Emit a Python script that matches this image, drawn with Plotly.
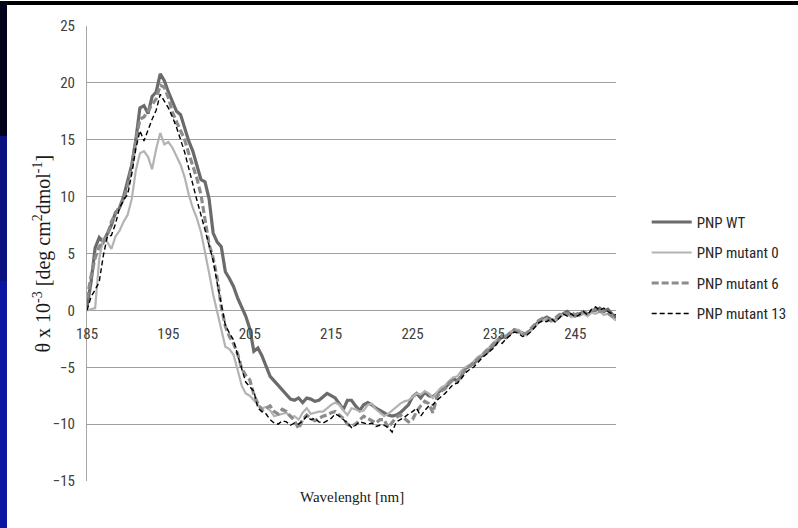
import plotly.graph_objects as go

# Wavelength grid, 185-250 nm in 0.5 nm steps
wavelength = [185 + 0.5 * i for i in range(131)]

# Mean residue ellipticity, theta x 10^-3 [deg cm2 dmol-1]
pnp_wt = [
    0.3, 2.5, 5.5, 6.4, 6.0, 6.7, 7.5, 8.6, 9.0, 10.0,
    11.3, 12.8, 15.0, 17.8, 18.0, 17.3, 18.8, 19.2, 20.8, 20.2,
    19.2, 18.4, 17.5, 17.2, 16.0, 14.9, 14.0, 12.8, 11.5, 11.3,
    9.8, 6.8, 6.0, 5.6, 3.4, 2.8, 2.1, 1.1, 0.3, -0.5,
    -1.6, -3.6, -3.3, -4.0, -4.9, -5.8, -6.2, -6.6, -6.9, -7.4,
    -7.8, -7.9, -7.7, -8.1, -7.7, -7.8, -8.0, -7.9, -7.6, -7.3,
    -7.5, -7.7, -8.2, -8.7, -7.9, -7.9, -8.4, -8.8, -8.3, -8.1,
    -8.3, -8.6, -8.8, -9.0, -9.2, -9.3, -9.2, -9.0, -8.6, -8.3,
    -7.6, -7.3, -7.7, -7.2, -7.5, -7.6, -7.3, -7.0, -6.8, -6.4,
    -6.0, -6.2, -5.8, -5.1, -4.9, -4.7, -4.3, -4.0, -3.8, -3.4,
    -3.0, -2.7, -2.3, -2.4, -2.0, -1.7, -1.8, -2.0, -2.1, -1.7,
    -1.4, -1.0, -0.8, -0.6, -0.8, -0.9, -0.6, -0.3, -0.1, -0.4,
    -0.5, -0.3, -0.2, -0.4, -0.1, 0.0, 0.2, -0.1, 0.1, -0.3,
    -0.7,
]

pnp_mutant_0 = [
    0.0, 0.1, 0.2, 4.5, 6.4, 6.0, 5.4, 6.5, 7.0, 7.8,
    8.4, 9.8, 12.3, 13.8, 14.0, 13.5, 12.4, 14.2, 15.6, 14.6,
    14.8, 14.3, 13.6, 12.8, 11.7, 10.2, 9.0, 8.1, 6.9, 5.2,
    3.3, 1.4, -0.2, -1.8, -3.2, -3.4, -3.9, -5.2, -6.6, -7.3,
    -7.5, -7.9, -8.3, -8.6, -8.5, -8.8, -9.3, -9.2, -9.1, -9.0,
    -9.4, -9.3, -9.6, -9.0, -8.6, -9.1, -9.0, -8.9, -8.9, -8.6,
    -8.3, -8.1, -8.3, -8.8, -9.2, -8.6, -8.7, -8.9, -8.8, -8.3,
    -8.2, -8.7, -9.0, -9.3, -9.1, -8.8, -8.5, -8.2, -8.0, -7.9,
    -7.6, -7.3, -7.4, -7.1, -7.3, -7.7, -7.2, -6.8, -6.6, -6.2,
    -5.9, -5.8, -5.3, -5.0, -4.8, -4.5, -4.1, -3.9, -3.5, -3.2,
    -2.8, -2.5, -2.4, -2.2, -1.9, -1.8, -1.7, -2.0, -2.2, -1.8,
    -1.5, -1.1, -0.9, -0.7, -1.0, -0.9, -0.5, -0.4, -0.3, -0.6,
    -0.4, -0.5, -0.3, -0.5, -0.2, -0.3, -0.1, -0.4, -0.3, -0.6,
    -0.9,
]

pnp_mutant_6 = [
    1.0, 3.0, 4.6, 5.6, 6.0, 6.6, 7.8, 8.5, 9.2, 9.8,
    10.9, 12.6, 14.9, 16.8, 17.0, 17.5, 18.1, 18.6, 19.8, 19.6,
    18.7, 17.4, 16.6, 15.8, 15.0, 13.8, 12.8, 11.6, 10.2, 7.8,
    5.8, 4.6, 2.8, 0.3, -1.4, -2.3, -2.9, -3.8, -5.1, -5.7,
    -6.1, -7.4, -8.2, -8.8, -8.6, -8.4, -8.9, -9.1, -8.7, -8.9,
    -9.3, -9.7, -10.4, -9.6, -9.2, -9.5, -9.7, -9.5, -9.3, -9.2,
    -9.0, -8.9, -9.2, -9.5, -10.0, -10.2, -10.0, -9.6, -9.3, -9.5,
    -9.7, -9.9, -9.6, -9.6, -10.3, -9.8, -9.4, -9.2, -9.5, -9.8,
    -9.6, -8.9, -8.4, -8.0, -8.2, -9.0, -7.6, -7.1, -6.9, -6.4,
    -6.1, -6.3, -5.7, -5.2, -4.9, -4.6, -4.3, -4.0, -3.6, -3.3,
    -2.9, -2.6, -2.2, -2.3, -2.0, -1.8, -1.9, -2.1, -2.0, -1.6,
    -1.2, -0.9, -0.7, -0.8, -0.9, -0.7, -0.4, -0.2, -0.4, -0.2,
    -0.4, -0.2, -0.1, -0.3, 0.0, 0.1, -0.1, 0.0, -0.2, -0.5,
    -0.6,
]

pnp_mutant_13 = [
    0.0, 1.2, 1.8, 2.5, 4.8, 6.5, 6.6, 7.6, 9.0, 9.7,
    10.2, 12.0, 14.2, 15.8, 14.9, 15.9, 16.8, 17.6, 19.0, 18.4,
    17.8, 17.0, 16.1, 15.0, 13.9, 12.5, 11.0, 9.7, 8.4, 7.0,
    5.6, 4.4, 2.4, 0.5, -1.3, -2.0, -2.6, -3.9, -5.2, -6.3,
    -6.7, -7.1, -8.6, -8.9, -9.1, -9.6, -9.9, -10.0, -9.7, -9.8,
    -10.1, -9.9, -10.0, -9.7, -9.3, -9.6, -9.5, -9.8, -9.9, -9.7,
    -9.5, -9.1, -9.3, -9.6, -9.9, -10.3, -10.1, -9.8, -9.9, -10.0,
    -9.9, -10.2, -10.1, -10.1, -10.3, -10.7, -9.8, -9.6, -9.4, -9.1,
    -8.9, -8.6, -9.3, -8.8, -8.4, -8.3, -7.9, -7.6, -7.3, -6.9,
    -6.5, -6.4, -6.0, -5.5, -5.2, -5.0, -4.6, -4.2, -3.9, -3.6,
    -3.3, -2.8, -2.9, -2.5, -2.2, -1.9, -2.0, -2.3, -2.2, -1.9,
    -1.5, -1.1, -0.9, -1.0, -0.7, -1.0, -0.7, -0.3, -0.5, -0.3,
    -0.6, -0.4, -0.1, -0.4, 0.1, 0.3, 0.0, 0.2, -0.1, -0.3,
    -0.4,
]

series_names = ["PNP WT", "PNP mutant 0", "PNP mutant 6", "PNP mutant 13"]
x_ticks = [185, 195, 205, 215, 225, 235, 245]
y_ticks = [-15, -10, -5, 0, 5, 10, 15, 20, 25]

styles = [
    dict(color="#6b6b6b", width=3.2, dash="solid"),
    dict(color="#b3b3b3", width=2.2, dash="solid"),
    dict(color="#8c8c8c", width=3.2, dash="7px,3px"),
    dict(color="#000000", width=1.4, dash="5px,3px"),
]

fig = go.Figure()
for i, (name, ys) in enumerate(zip(series_names, [pnp_wt, pnp_mutant_0, pnp_mutant_6, pnp_mutant_13])):
    assert len(ys) == len(wavelength)
    fig.add_trace(go.Scatter(
        x=wavelength, y=ys, name=name, mode="lines",
        line=dict(shape="linear", **styles[i]),
        legendgroup=name,
    ))

tick_font = dict(family="Liberation Sans Narrow, Roboto Condensed, Liberation Sans, sans-serif",
                 size=15, color="#404040")
serif = "Liberation Serif, DejaVu Serif, serif"


def frame_strip(x0, x1, y0, y1, color):
    # rectangle sized in pixels, anchored to the plot's lower-left corner
    return dict(type="rect", xref="paper", yref="paper", layer="below",
                xsizemode="pixel", ysizemode="pixel", xanchor=0, yanchor=0,
                x0=x0, x1=x1, y0=y0, y1=y1, fillcolor=color, line_width=0)


fig.update_layout(
    width=798, height=528,
    margin=dict(l=87, r=182, t=26, b=47, autoexpand=False),
    paper_bgcolor="#ffffff",
    plot_bgcolor="#ffffff",
    showlegend=True,
    legend=dict(
        x=1.058, xanchor="left", y=0.605, yanchor="top",
        font=dict(family=tick_font["family"], size=15, color="#262626"),
        bgcolor="rgba(0,0,0,0)", tracegroupgap=8, itemwidth=40,
    ),
    xaxis=dict(
        range=[185, 250], tickvals=x_ticks, ticktext=[str(v) for v in x_ticks],
        showgrid=False, zeroline=False, showline=False,
        anchor="free", position=15 / 40, ticks="",
        ticklabelstandoff=13, tickfont=tick_font,
    ),
    yaxis=dict(
        range=[-15, 25], tickvals=y_ticks,
        showgrid=True, gridcolor="#a0a0a0", gridwidth=1,
        zeroline=False, showline=True, linecolor="#a6a6a6", linewidth=1,
        ticks="", tickfont=tick_font, ticklabelstandoff=8,
    ),
    shapes=[
        # dark slide frame along the top and left edges
        frame_strip(-100, 740, 455 + 21, 480, "#000000"),
        frame_strip(-100, -80, 345, 480, "#02031a"),
        frame_strip(-100, -80, 200, 345, "#0a1280"),
        frame_strip(-100, -80, -60, 200, "#0b16a0"),
    ],
    annotations=[
        dict(text="Wavelenght [nm]", xref="paper", yref="paper", x=0.5, y=(481 - 497) / 455,
             showarrow=False, font=dict(family=serif, size=15, color="#1a1a1a"),
             xanchor="center", yanchor="middle"),
        dict(text="θ x 10<sup>-3</sup> [deg cm<sup>2</sup>dmol<sup>-1</sup>]",
             xref="paper", yref="paper", x=(42 - 87) / 529, y=0.5, textangle=-90,
             showarrow=False, font=dict(family=serif, size=20, color="#1a1a1a"),
             xanchor="center", yanchor="middle"),
    ],
)

fig.write_html("out.html")
